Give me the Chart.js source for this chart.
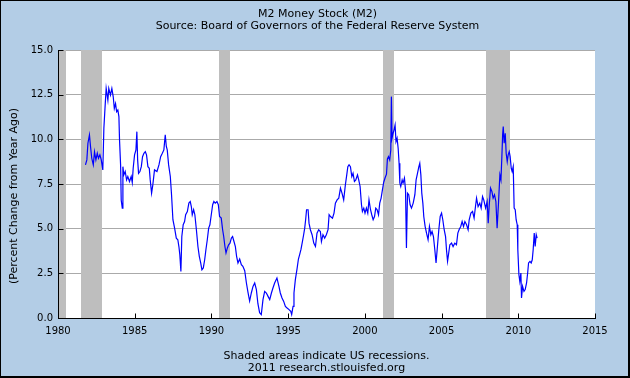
<!DOCTYPE html>
<html>
<head>
<meta charset="utf-8">
<script src="https://cdn.jsdelivr.net/npm/chart.js@4.4.1/dist/chart.umd.min.js"></script>
<style>
  html, body { margin: 0; padding: 0; background: #b3cde6; }
  #wrap { width: 630px; height: 378px; position: relative; }
  canvas { display: block; }
</style>
</head>
<body>
<div id="wrap"><canvas id="c" width="630" height="378"></canvas></div>
<script>
// ---- Data ----
const dates = [
1981.79,1981.88,1981.95,1982.05,1982.12,1982.2,1982.3,1982.38,1982.47,1982.56,1982.64,1982.73,1982.82,1982.92,1982.99,
1983.08,1983.14,1983.25,1983.31,1983.42,1983.51,1983.6,1983.67,1983.75,1983.82,1983.9,1983.97,
1984.01,1984.08,1984.12,1984.19,1984.23,1984.29,1984.38,1984.47,1984.55,1984.66,1984.77,1984.84,1984.9,1984.99,
1985.08,1985.14,1985.19,1985.25,1985.34,1985.43,1985.51,1985.6,1985.69,1985.77,1985.86,1985.95,
1986.01,1986.1,1986.18,1986.29,1986.45,1986.58,1986.69,1986.8,1986.9,1986.99,
1987.06,1987.12,1987.21,1987.32,1987.4,1987.49,1987.6,1987.71,1987.81,1987.88,1987.94,
1988.01,1988.07,1988.16,1988.25,1988.32,1988.43,1988.53,1988.62,1988.69,1988.75,1988.84,1988.92,
1989.02,1989.12,1989.21,1989.3,1989.38,1989.47,1989.56,1989.64,1989.73,1989.82,1989.9,1989.99,
1990.08,1990.16,1990.25,1990.36,1990.45,1990.53,1990.64,1990.73,1990.8,1990.88,1990.95,
1991.04,1991.12,1991.21,1991.3,1991.38,1991.47,1991.56,1991.64,1991.73,1991.84,1991.95,
1992.05,1992.17,1992.28,1992.38,1992.49,1992.6,1992.71,1992.82,1992.93,
1993.03,1993.14,1993.25,1993.36,1993.47,1993.58,1993.69,1993.8,1993.91,
1994.01,1994.12,1994.27,1994.4,1994.49,1994.6,1994.71,1994.82,1994.93,
1995.06,1995.17,1995.23,1995.32,1995.38,1995.47,1995.58,1995.67,1995.75,1995.84,1995.93,
1996.01,1996.08,1996.14,1996.2,1996.3,1996.36,1996.45,1996.56,1996.67,1996.78,1996.88,1996.99,
1997.1,1997.17,1997.27,1997.38,1997.49,1997.6,1997.67,1997.76,1997.89,1997.99,
1998.08,1998.19,1998.3,1998.41,1998.51,1998.62,1998.73,1998.82,1998.89,1998.97,
1999.06,1999.15,1999.23,1999.32,1999.41,1999.52,1999.6,1999.69,1999.78,1999.84,1999.93,
2000.01,2000.1,2000.19,2000.27,2000.37,2000.45,2000.54,2000.63,2000.71,2000.8,2000.89,2000.97,
2001.06,2001.15,2001.23,2001.32,2001.41,2001.47,2001.54,2001.62,2001.69,2001.73,2001.77,2001.84,2001.9,2001.97,
2002.03,2002.1,2002.17,2002.23,2002.28,2002.34,2002.43,2002.49,2002.58,2002.65,2002.71,2002.78,2002.86,2002.95,
2003.04,2003.15,2003.26,2003.34,2003.43,2003.52,2003.58,2003.65,2003.71,2003.78,2003.84,2003.93,
2004.02,2004.12,2004.21,2004.3,2004.38,2004.47,2004.56,2004.64,2004.73,2004.82,2004.91,
2005.0,2005.08,2005.17,2005.26,2005.32,2005.39,2005.45,2005.54,2005.65,2005.75,2005.86,2005.97,
2006.06,2006.14,2006.25,2006.34,2006.43,2006.52,2006.63,2006.73,2006.8,2006.91,
2007.02,2007.12,2007.21,2007.28,2007.38,2007.49,2007.58,2007.67,2007.75,2007.87,2007.97,
2008.04,2008.1,2008.19,2008.28,2008.36,2008.45,2008.54,2008.62,2008.71,2008.8,2008.87,2008.93,2008.98,
2009.02,2009.08,2009.15,2009.21,2009.28,2009.34,2009.41,2009.47,2009.54,2009.6,2009.67,2009.73,2009.8,2009.86,2009.93,2009.97,
2010.04,2010.1,2010.17,2010.21,2010.28,2010.37,2010.45,2010.54,2010.61,2010.67,2010.76,2010.84,2010.91,2010.97,
2011.04,2011.1,2011.17,2011.23
];
const m2Change = [
8.57,8.85,9.78,10.25,9.6,8.94,8.57,9.3,8.85,9.22,8.94,9.13,8.85,8.29,10.62,
12.0,12.85,12.2,12.85,12.48,12.85,12.38,11.73,12.0,11.55,11.64,11.27,
9.97,8.57,6.6,6.15,8.47,8.01,8.2,7.73,7.92,7.64,7.92,7.58,8.38,9.13,
9.41,10.43,8.85,8.1,8.2,8.47,9.03,9.22,9.31,9.13,8.47,8.38,
7.73,6.99,7.45,8.29,8.2,8.57,9.03,9.22,9.41,10.25,
9.6,9.41,8.57,7.92,6.9,5.5,5.03,4.47,4.38,4.0,3.54,
2.61,4.56,5.22,5.4,5.78,5.96,6.43,6.52,6.24,5.78,6.06,5.78,
4.94,4.0,3.45,3.08,2.7,2.8,3.26,3.82,4.38,5.03,5.22,5.78,
6.34,6.52,6.43,6.52,6.34,5.68,5.59,4.94,4.56,4.0,3.64,
3.92,4.1,4.19,4.47,4.56,4.28,4.0,3.45,3.08,3.3,2.98,
2.89,2.65,1.96,1.45,0.95,1.4,1.77,1.96,1.59,
0.8,0.3,0.19,1.03,1.49,1.4,1.21,1.03,1.4,
1.68,1.96,2.24,1.77,1.4,1.12,0.93,0.65,0.56,
0.47,0.37,0.19,0.65,1.4,2.15,2.75,3.3,3.55,3.85,4.28,
4.66,5.03,5.5,6.06,6.06,5.31,4.94,4.66,4.19,4.0,4.75,4.94,
4.84,4.28,4.66,4.47,4.66,4.94,5.78,5.68,5.59,5.87,
6.43,6.61,6.71,7.27,6.99,6.61,7.45,8.01,8.47,8.57,
8.47,7.92,8.1,7.64,7.73,8.01,7.73,7.36,6.34,5.96,6.15,
5.87,6.15,5.87,6.61,6.06,5.78,5.5,5.68,6.15,6.06,5.78,6.43,
6.71,7.2,7.6,7.85,8.05,8.9,9.03,8.85,9.4,12.39,10.06,10.34,10.52,10.8,
9.87,10.06,9.5,8.66,7.55,7.36,7.73,7.55,7.83,7.17,3.92,6.99,6.9,6.34,
6.15,6.43,6.9,7.73,8.1,8.47,8.66,8.01,6.99,6.43,5.68,5.12,
4.75,4.38,5.12,4.66,4.84,4.56,3.82,3.08,4.0,4.94,5.68,
5.87,5.5,4.94,4.56,3.82,3.17,3.54,4.1,4.19,4.0,4.19,4.1,
4.75,4.94,5.12,5.4,5.12,5.4,5.22,4.94,5.5,5.87,
5.96,5.59,6.24,6.71,6.24,6.43,6.15,6.8,6.61,6.15,6.52,
5.31,6.24,7.27,7.08,6.71,6.9,6.52,5.03,6.43,8.01,7.73,9.03,10.25,
10.71,9.78,10.34,9.22,8.75,9.13,9.31,9.03,8.38,8.2,8.47,6.15,6.06,5.5,5.22,3.82,
2.42,2.05,2.52,1.12,1.77,1.49,1.59,1.96,2.52,3.08,3.17,3.08,3.26,3.82,
4.75,4.0,4.66,4.47
];
const recessionStarts = [1980.0, 1981.5, 1990.5, 2001.17, 2007.92];
const recessionEnds   = [1980.55, 1982.87, 1991.2, 2001.88, 2009.46];
const xTickYears = [1980, 1985, 1990, 1995, 2000, 2005, 2010, 2015];
const yTickValues = [0, 2.5, 5, 7.5, 10, 12.5, 15];

const titleText = 'M2 Money Stock (M2)';
const subtitleText = 'Source: Board of Governors of the Federal Reserve System';
const yLabelText = '(Percent Change from Year Ago)';
const footerLines = ['Shaded areas indicate US recessions.', '2011 research.stlouisfed.org'];

// ---- Styling ----
const BG = '#b3cde6';
const FONT = 'DejaVu Sans';

const decorPlugin = {
  id: 'decor',
  afterLayout(chart) {
    // let the y tick labels use the full space left of the plot
    const y = chart.scales.y;
    y.left = 0;
    y.width = y.right;
  },
  beforeDraw(chart) {
    const { ctx, chartArea: a } = chart;
    ctx.save();
    ctx.fillStyle = BG;
    ctx.fillRect(0, 0, chart.width, chart.height);
    ctx.fillStyle = '#ffffff';
    ctx.fillRect(a.left, a.top, a.right - a.left, a.bottom - a.top);
    ctx.restore();
  },
  beforeDatasetsDraw(chart) {
    const { ctx, chartArea: a, scales: { x } } = chart;
    ctx.save();
    ctx.beginPath();
    ctx.rect(a.left, a.top, a.right - a.left, a.bottom - a.top);
    ctx.clip();
    ctx.fillStyle = '#bebebe';
    recessionStarts.forEach((s, i) => {
      const l = Math.round(x.getPixelForValue(s));
      const r = Math.round(x.getPixelForValue(recessionEnds[i]));
      ctx.fillRect(l, a.top, Math.max(1, r - l), a.bottom - a.top);
    });
    ctx.restore();
  },
  afterDatasetsDraw(chart) {
    const { ctx, chartArea: a, scales: { x, y } } = chart;
    ctx.save();
    ctx.strokeStyle = '#000000';
    ctx.lineWidth = 1;
    ctx.beginPath();
    const L = Math.round(a.left) + 0.5;
    const B = Math.round(a.bottom) + 0.5;
    ctx.moveTo(L, Math.round(a.top));
    ctx.lineTo(L, B);
    ctx.lineTo(Math.round(a.right), B);
    yTickValues.forEach(v => {
      const py = Math.round(y.getPixelForValue(v)) + 0.5;
      ctx.moveTo(L, py);
      ctx.lineTo(L + 5, py);
    });
    xTickYears.forEach(v => {
      const px = Math.round(x.getPixelForValue(v)) + 0.5;
      ctx.moveTo(px, B);
      ctx.lineTo(px, B - 5);
    });
    ctx.stroke();
    ctx.restore();
  },
  afterDraw(chart) {
    const { ctx, chartArea: a } = chart;
    ctx.save();
    ctx.fillStyle = '#000000';
    ctx.font = '11px "' + FONT + '"';
    // y axis label
    ctx.save();
    ctx.translate(17, 196);
    ctx.rotate(-Math.PI / 2);
    ctx.textAlign = 'center';
    ctx.textBaseline = 'alphabetic';
    ctx.fillText(yLabelText, 0, 0);
    ctx.restore();
    // footer
    ctx.textAlign = 'center';
    ctx.textBaseline = 'alphabetic';
    const cx = (a.left + a.right) / 2;
    ctx.fillText(footerLines[0], cx, 358.5);
    ctx.fillText(footerLines[1], cx, 371);
    // outer frame
    ctx.fillStyle = '#000000';
    ctx.fillRect(0, 0, chart.width, 1);
    ctx.fillRect(0, 0, 1, chart.height);
    ctx.fillRect(chart.width - 2, 0, 2, chart.height);
    ctx.fillRect(0, chart.height - 2, chart.width, 2);
    ctx.restore();
  }
};

new Chart(document.getElementById('c'), {
  type: 'line',
  data: {
    datasets: [{
      label: 'M2',
      data: dates.map((d, i) => ({ x: d, y: m2Change[i] })),
      borderColor: '#0000ff',
      borderWidth: 1.2,
      pointRadius: 0,
      tension: 0,
      fill: false
    }]
  },
  options: {
    responsive: false,
    animation: false,
    devicePixelRatio: 1,
    layout: { padding: { left: 40, right: 35, top: 0, bottom: 0 } },
    plugins: {
      legend: { display: false },
      tooltip: { enabled: false },
      title: {
        display: true, text: titleText, color: '#000000',
        font: { family: FONT, size: 11, weight: 'normal', lineHeight: 1 },
        padding: { top: 9, bottom: 0 }
      },
      subtitle: {
        display: true, text: subtitleText, color: '#000000',
        font: { family: FONT, size: 11, weight: 'normal', lineHeight: 1 },
        padding: { top: 1, bottom: 18 }
      }
    },
    scales: {
      x: {
        type: 'linear', min: 1980, max: 2015,
        afterBuildTicks: s => { s.ticks = xTickYears.map(v => ({ value: v })); },
        afterFit: s => { s.height = 60; },
        grid: { display: false, drawTicks: false },
        border: { display: true, color: '#000000' },
        ticks: {
          color: '#000000', padding: 7, maxRotation: 0, autoSkip: false,
          font: { family: FONT, size: 10 },
          callback: v => String(v)
        }
      },
      y: {
        type: 'linear', min: 0, max: 15,
        afterBuildTicks: s => { s.ticks = yTickValues.map(v => ({ value: v })); },
        afterFit: s => { s.width = 18; },
        grid: { color: '#aaaaaa', lineWidth: 1, drawTicks: false },
        border: { display: true, color: '#000000' },
        ticks: {
          color: '#000000', padding: 5,
          font: { family: FONT, size: 10 },
          callback: v => v.toFixed(1)
        }
      }
    }
  },
  plugins: [decorPlugin]
});
</script>
</body>
</html>
